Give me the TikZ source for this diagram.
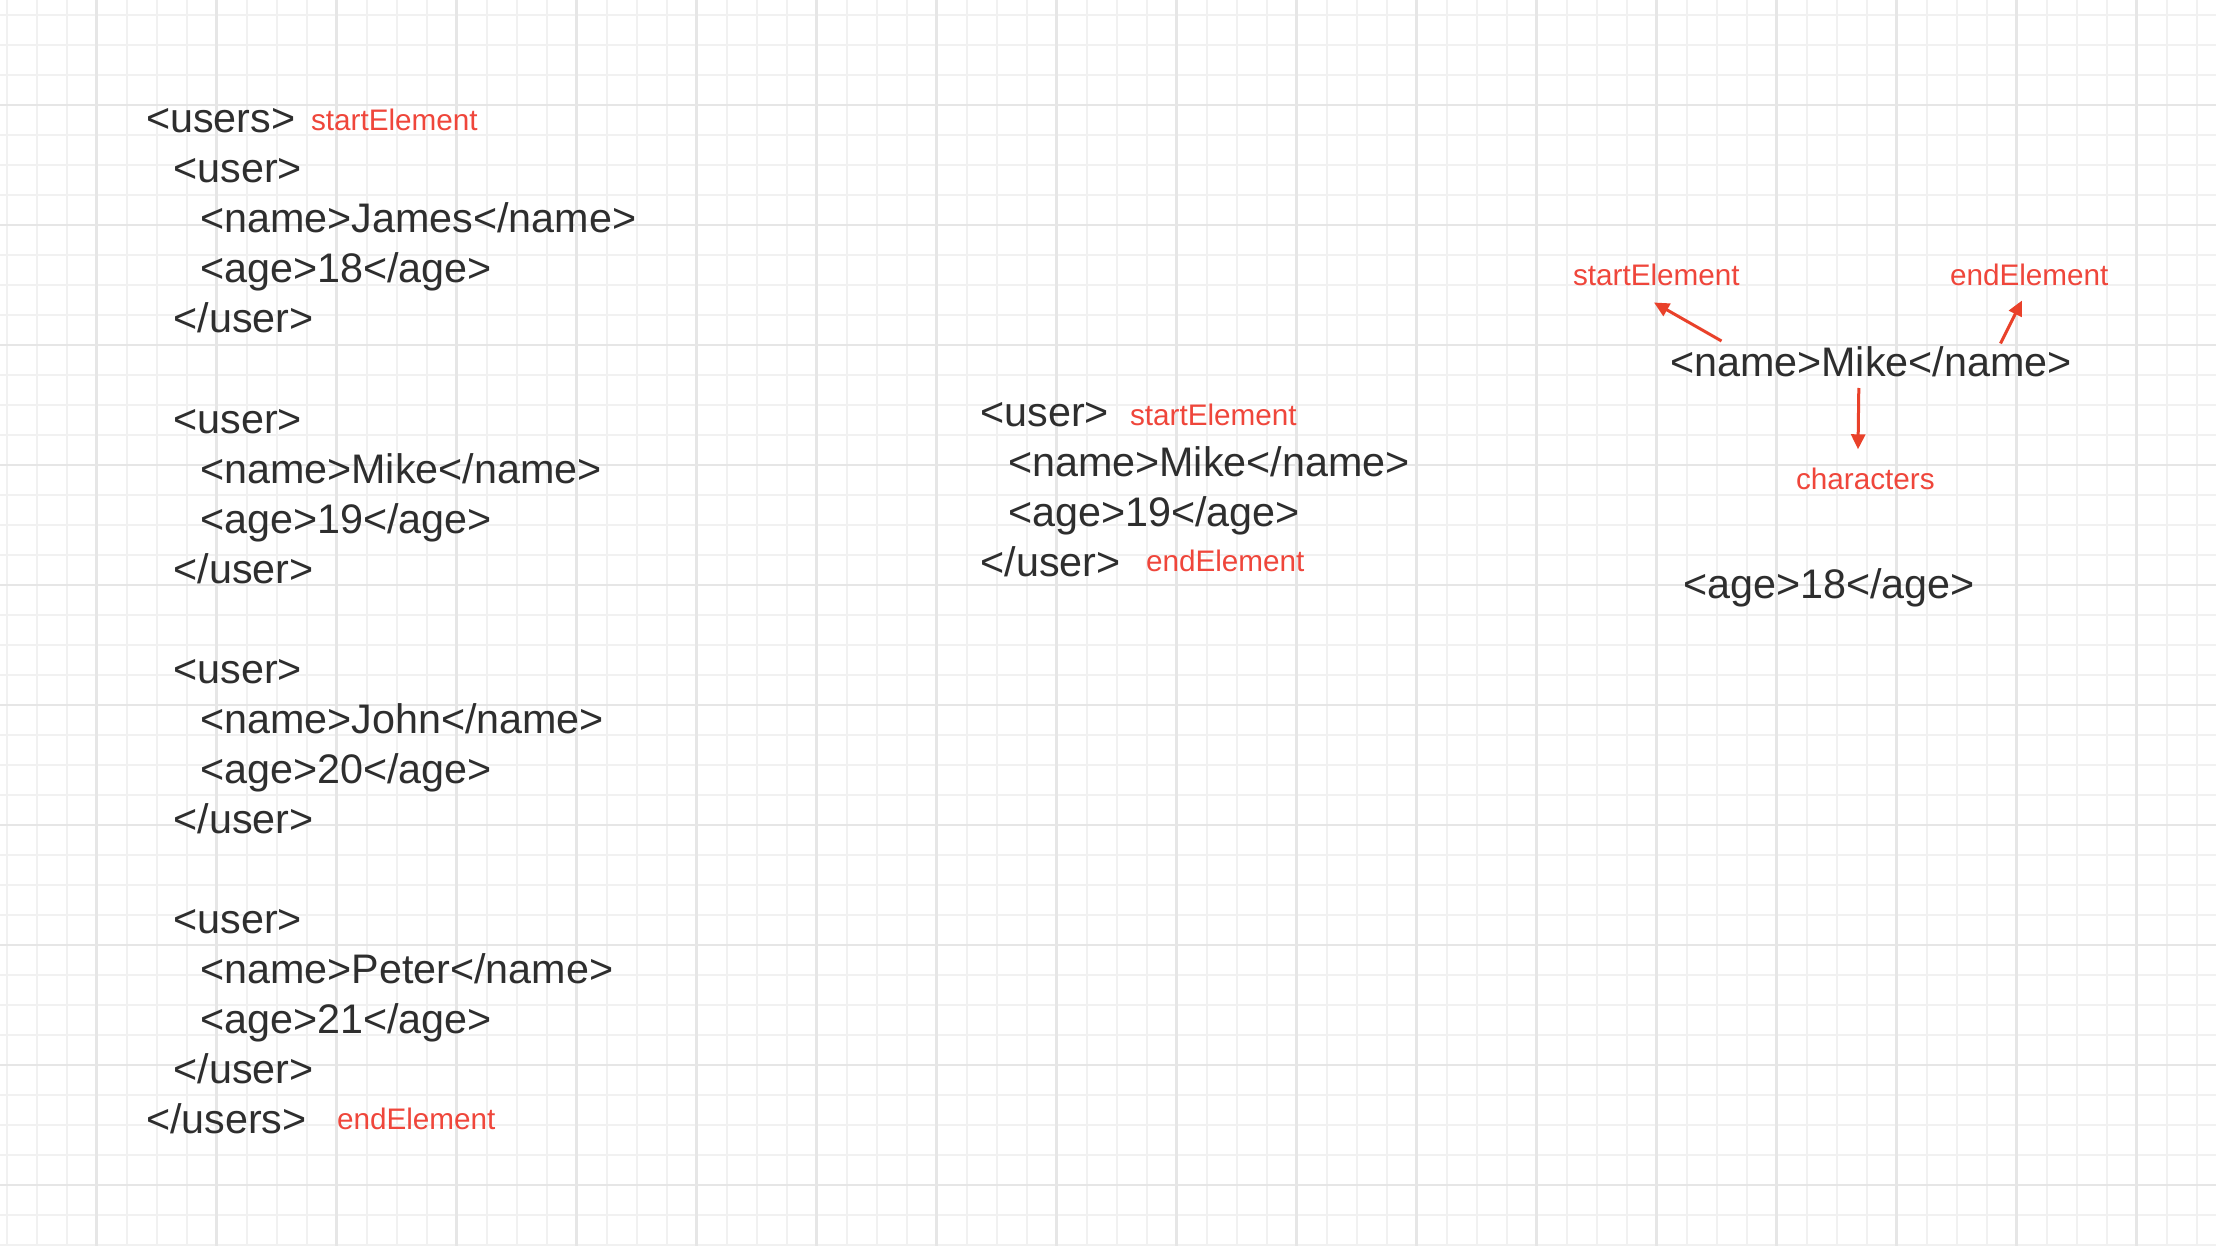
\documentclass[tikz,border=0pt]{standalone}
\usepackage{fontspec}
\usetikzlibrary{arrows.meta}
\newfontfamily\uifont{Liberation Sans}
\definecolor{gridminor}{HTML}{F1F1F1}
\definecolor{gridmajor}{HTML}{E6E6E6}
\definecolor{codegray}{HTML}{2E2E2E}
\definecolor{evred}{HTML}{EF463B}
\definecolor{arrred}{HTML}{E9412A}
\tikzset{
  codetxt/.style={anchor=base west, inner sep=0pt, outer sep=0pt, text=codegray, font=\uifont\fontsize{41.3}{48}\selectfont},
  evtxt/.style={anchor=base west, inner sep=0pt, outer sep=0pt, text=evred, font=\uifont\fontsize{29.7}{35}\selectfont},
  evarrow/.style={draw=arrred, line width=3pt, -{Triangle[length=15pt,width=14pt]}}
}
\begin{document}
\begin{tikzpicture}[x=1pt,y=-1pt]
\useasboundingbox (0,0) rectangle (2216,1246);
\fill[white] (0,0) rectangle (2216,1246);
% grid
\foreach \k in {0,...,73} \draw[gridminor, line width=2pt] ({6.7+30*\k},0) -- ({6.7+30*\k},1246);
\foreach \k in {0,...,41} \draw[gridminor, line width=2pt] (0,{15+30*\k}) -- (2216,{15+30*\k});
\foreach \k in {0,...,17} \draw[gridmajor, line width=2.6pt] ({96.7+120*\k},0) -- ({96.7+120*\k},1246);
\foreach \k in {0,...,9} \draw[gridmajor, line width=2.6pt] (0,{105+120*\k}) -- (2216,{105+120*\k});

% left column
\node[codetxt] (l0) at (146,133) {<users>};
\node[evtxt] (l0e) at (311,130.5) {startElement};
\node[codetxt] (l1) at (173.5,183) {<user>};
\node[codetxt] (l2) at (200,233) {<name>James</name>};
\node[codetxt] (l3) at (200,283) {<age>18</age>};
\node[codetxt] (l4) at (173.5,333) {</user>};
\node[codetxt] (l6) at (173.5,433) {<user>};
\node[codetxt] (l7) at (200,483) {<name>Mike</name>};
\node[codetxt] (l8) at (200,533) {<age>19</age>};
\node[codetxt] (l9) at (173.5,583) {</user>};
\node[codetxt] (l11) at (173.5,683) {<user>};
\node[codetxt] (l12) at (200,733) {<name>John</name>};
\node[codetxt] (l13) at (200,783) {<age>20</age>};
\node[codetxt] (l14) at (173.5,833) {</user>};
\node[codetxt] (l16) at (173.5,933) {<user>};
\node[codetxt] (l17) at (200,983) {<name>Peter</name>};
\node[codetxt] (l18) at (200,1033) {<age>21</age>};
\node[codetxt] (l19) at (173.5,1083) {</user>};
\node[codetxt] (l20) at (146,1133) {</users>};
\node[evtxt] (l20e) at (337,1129) {endElement};

% middle block
\node[codetxt] (m0) at (980.5,426.5) {<user>};
\node[evtxt] (m0e) at (1130,425) {startElement};
\node[codetxt] (m1) at (1008,476.5) {<name>Mike</name>};
\node[codetxt] (m2) at (1008,526.5) {<age>19</age>};
\node[codetxt] (m3) at (980.5,576.5) {</user>};
\node[evtxt] (m3e) at (1146,571) {endElement};

% right block
\node[evtxt] (rs) at (1573,285.3) {startElement};
\node[evtxt] (re) at (1950,285.3) {endElement};
\node[codetxt] (rn) at (1670,376.5) {<name>Mike</name>};
\node[evtxt] (rc) at (1796,489.3) {characters};
\node[codetxt] (ra) at (1683,598.2) {<age>18</age>};

\coordinate (a1s) at (1721.5,341);
\coordinate (a1e) at (1654,302.5);
\coordinate (a2s) at (2000.5,343.5);
\coordinate (a2e) at (2022,300.5);
\coordinate (a3s) at (1858.8,388);
\coordinate (a3e) at (1858,449.3);
\draw[evarrow] (a1s) -- (a1e);
\draw[evarrow] (a2s) -- (a2e);
\draw[evarrow] (a3s) -- (a3e);
\end{tikzpicture}
\end{document}
